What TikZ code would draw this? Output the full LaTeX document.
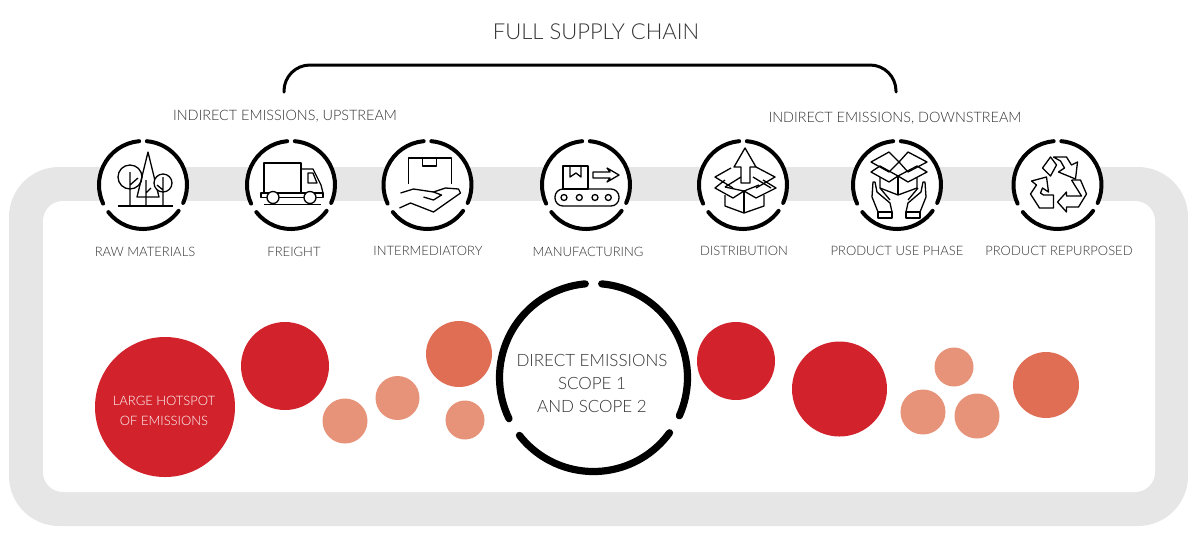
\documentclass[tikz,border=0pt]{standalone}
\usepackage{fontspec}
\setmainfont{Lato}[UprightFont=* Light]
\usetikzlibrary{calc}
\definecolor{bandgray}{HTML}{E6E6E6}
\definecolor{hotred}{HTML}{D2232C}
\definecolor{midred}{HTML}{E06E55}
\definecolor{lowred}{HTML}{E79379}
\definecolor{inkgray}{HTML}{333333}
\tikzset{
  ring/.style={black,line width=2pt,line cap=round},
  bigring/.style={black,line width=3.6pt,line cap=round},
  icon/.style={black,line width=0.65pt,line join=round},
  label/.style={text=inkgray,font=\fontsize{6.5}{9}\selectfont,inner sep=0pt},
  head/.style={text=inkgray,font=\fontsize{7.2}{10}\selectfont,inner sep=0pt},
  inring/.style={text=inkgray,font=\fontsize{8.5}{11.5}\selectfont,inner sep=0pt,align=center},
}
\begin{document}
\begin{tikzpicture}[x=0.5pt,y=-0.5pt]
\useasboundingbox (0,0) rectangle (1200,543);
\coordinate (raw) at (143,185);
\coordinate (freight) at (291,185);
\coordinate (inter) at (427.5,185);
\coordinate (manu) at (586,185);
\coordinate (dist) at (743,185);
\coordinate (use) at (897,185);
\coordinate (repur) at (1057.5,185);
\coordinate (direct) at (593.5,377.5);
\coordinate (B1) at (284,92);
\coordinate (B2) at (896,92);
% band
\fill[bandgray,rounded corners=25pt] (9,167) rectangle (1188,526);
\fill[white,rounded corners=10pt] (43,201) rectangle (1155,492);
% spots
\fill[hotred] (165,407) circle [radius=70];
\fill[hotred] (285,366) circle [radius=44];
\fill[lowred] (345,421) circle [radius=22.5];
\fill[lowred] (397.5,398) circle [radius=22];
\fill[midred] (459,354) circle [radius=33];
\fill[lowred] (465,420) circle [radius=19.5];
\fill[hotred] (736,361) circle [radius=39];
\fill[hotred] (839.5,389) circle [radius=47.5];
\fill[lowred] (954,367) circle [radius=19.5];
\fill[lowred] (923,412) circle [radius=22.5];
\fill[lowred] (977,416) circle [radius=22.5];
\fill[midred] (1046,385) circle [radius=33];
% rings
\foreach \c in {raw,freight,inter,manu,dist,use,repur}{
  \fill[white] (\c) circle [radius=44];
  \draw[ring] ($(\c)+(-95:44)$) arc [start angle=-95,end angle=-205,radius=44];
  \draw[ring] ($(\c)+(-218:44)$) arc [start angle=-218,end angle=-324,radius=44];
  \draw[ring] ($(\c)+(-336:44)$) arc [start angle=-336,end angle=-445,radius=44];
}
\draw[bigring] ($(direct)+(-95:94)$) arc [start angle=-95,end angle=-206,radius=94];
\draw[bigring] ($(direct)+(-218:94)$) arc [start angle=-218,end angle=-324,radius=94];
\draw[bigring] ($(direct)+(-336:94)$) arc [start angle=-336,end angle=-445,radius=94];
% bracket
\draw[black,line width=1.5pt,line cap=round,rounded corners=13pt] (B1)--(284,65)--(896,65)--(B2);
% trees
\begin{scope}[shift={(raw)},icon]
\draw (-25,21)--(30,21);
\draw (-13,-8) circle [radius=12];
\draw (-13,-13)--(-13,21) (-13,0)--(-5,-7);
\draw (5,-33)--(-6,12)--(16,12)--cycle;
\draw (3,-5)--(3,21) (3,8)--(8,3);
\draw[fill=white] (20,-2) circle [radius=9];
\draw (20,-8)--(20,21) (20,5)--(14,0);
\end{scope}
% truck
\begin{scope}[shift={(freight)},icon]
\draw (-27,8)--(-27,-22)--(10,-22)--(10,8);
\draw (10,-16)--(22,-16)--(30,0)--(32,8);
\draw (17,-12)--(22,-12)--(26,-2)--(17,-2)--cycle;
\draw (-30,8)--(32,8)--(32,12.5)--(-30,12.5)--cycle;
\draw[fill=white] (-18,12.5) circle [radius=6];
\draw[fill=white] (19,12.5) circle [radius=6];
\draw (-27,19.5)--(30,19.5);
\end{scope}
% hand with box
\begin{scope}[shift={(inter)},icon]
\draw (-19,-1)--(-19,-27)--(24,-27)--(24,-1);
\draw (-5,-27)--(-5,-19)--(9,-19)--(9,-27);
\draw (-27,8)--(-14,4)--(6,7)--(18,3)--(31,4)--(33,8)--(6,27)--(-17,18)--(-28,23);
\draw (6,7)--(14,10)--(6,15)--(-4,12);
\end{scope}
% belt
\begin{scope}[shift={(manu)},icon]
\draw (-23,-19) rectangle (2,4);
\draw (-16,-19)--(-16,-8)--(-10,-12)--(-5,-8)--(-5,-19);
\draw (7,-13)--(24,-13)--(21,-17)--(33,-10)--(21,-3)--(24,-7)--(7,-7)--cycle;
\draw[rounded corners=4pt] (-31,4) rectangle (33,21);
\foreach \x in {-22,-6.7,9,22.3}
  \draw (\x,12.5) circle [radius=3];
\end{scope}
% open box
\begin{scope}[shift={(dist)},icon]
\draw (2,-37)--(13,-18)--(7,-18)--(7,-2)--(-2,-2)--(-2,-18)--(-9,-18)--cycle;
\draw (-18,10)--(-18,21)--(1,28)--(21,21)--(21,10);
\draw (1,6)--(1,28);
\draw (-18,-5)--(-28,3)--(-10,13)--(1,6)--(-18,2);
\draw (20,-5)--(33,3)--(13,13)--(1,6)--(16,0);
\draw (-12,-17)--(-28,-8)--(-10,3);
\draw (-2,-8)--(-18,2);
\draw (13,-18)--(32,-8)--(13,3);
\draw (10,-8)--(28,3);
\end{scope}
% hands
\begin{scope}[shift={(use)},icon]
\draw (-8,-33)--(-26,-23)--(-8,-13)--(2,-23)--cycle;
\draw (11,-33)--(30,-23)--(11,-13)--(2,-23)--cycle;
\draw (-26,-13)--(-8,-3)--(1,-9)--(-17,-19)--cycle;
\draw (30,-13)--(11,-3)--(1,-9)--(20,-19)--cycle;
\draw (-17,-8)--(-17,3)--(1,10)--(20,3)--(20,-8);
\draw (1,-9)--(1,10);
\foreach \s in {1,-1}{
  \begin{scope}[xshift=1pt,xscale=\s,xshift=-1pt]
  \draw (-19,27) rectangle (-5,33);
  \draw (-19,27)--(-25,12)--(-24,-3)--(-22,-3)--(-20,7)--(-7,18)--(-5,27);
  \draw (-17,3)--(-7,15);
  \end{scope}
}
\end{scope}
% recycle
\begin{scope}[shift={(repur)},icon]
\draw (-4,-28)--(9,-28)--(14,-20)--(20,-23)--(18,-6)--(1,-13)--(7,-17)--(3,-24)--cycle;
\draw (-7,-28)--(-15,-17)--(-7,-9)--(-1,-20)--cycle;
\draw (-11,-8)--(-26,-4)--(-21,0)--(-27,9)--(-18,23)--(-4,23)--(-4,10)--(-14,10)--(-17,8)--(-15,3)--(-9,7)--cycle;
\draw (14,-5)--(23,-5)--(29,9)--(21,22)--(9,22)--(9,27)--(0,17)--(9,7)--(9,11)--(24,11)--(14,-5);
\end{scope}
% texts
\node[head,font=\fontsize{11}{13}\selectfont] (fullchain) at (596,31.5) {FULL SUPPLY CHAIN};
\node[head] (upstream) at (285,116) {INDIRECT EMISSIONS, UPSTREAM};
\node[head] (downstream) at (895,118) {INDIRECT EMISSIONS, DOWNSTREAM};
\node[label] (rawlabel) at (145,252) {RAW MATERIALS};
\node[label] (freightlabel) at (294,252) {FREIGHT};
\node[label] (interlabel) at (428,250.5) {INTERMEDIATORY};
\node[label] (manulabel) at (588,252) {MANUFACTURING};
\node[label] (distlabel) at (744,250.5) {DISTRIBUTION};
\node[label] (uselabel) at (897,250.5) {PRODUCT USE PHASE};
\node[label] (repurlabel) at (1059,250.5) {PRODUCT REPURPOSED};
\node[inring] (directtext) at (592,383.5) {DIRECT EMISSIONS\\SCOPE 1\\AND SCOPE 2};
\node[label,text=white,align=center,font=\fontsize{6.5}{10}\selectfont] (hotspot) at (164,410.5) {LARGE HOTSPOT\\OF EMISSIONS};
\end{tikzpicture}
\end{document}
